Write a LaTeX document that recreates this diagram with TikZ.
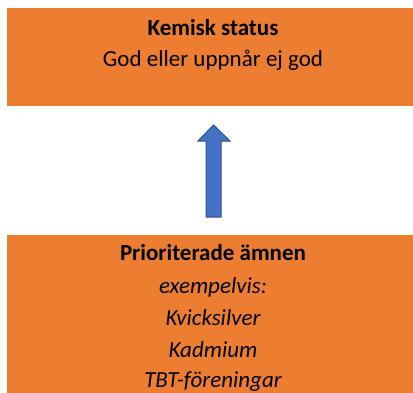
\documentclass[tikz,border=0pt]{standalone}
\usepackage{fontspec}
\setmainfont{Carlito}
\definecolor{boxorange}{HTML}{ED7D31}
\definecolor{arrowblue}{HTML}{4472C4}
\definecolor{arrowedge}{HTML}{2F528F}
\newcommand{\fsz}{\fontsize{23}{26}\selectfont}
\begin{document}
\begin{tikzpicture}[x=1pt,y=-1pt,
  panel/.style={fill=boxorange,draw=none},
  txt/.style={anchor=center,inner sep=0pt,font=\fsz,text=black},
  boldtxt/.style={txt,font=\fsz\bfseries},
  ittxt/.style={txt,font=\fsz\itshape}]
\useasboundingbox (0,0) rectangle (413,392);
\fill[white] (0,0) rectangle (413,392);
\path[panel] (7,8) rectangle (420,106);
\path[panel] (7,235) rectangle (420,400);
\node[boldtxt] (t1) at (213,28) {Kemisk status};
\node[txt] (t2) at (213,60) {God eller uppnår ej god};
\node[boldtxt] (b1) at (213,253) {Prioriterade ämnen};
\node[ittxt] (b2) at (213,287) {exempelvis:};
\node[ittxt] (b3) at (213,318) {Kvicksilver};
\node[ittxt] (b4) at (213,350) {Kadmium};
\node[ittxt] (b5) at (213,382) {TBT-föreningar};
\filldraw[fill=arrowblue,draw=arrowedge,line width=1pt,line join=miter]
  (206,217) -- (206,141) -- (198,141) -- (213.5,125) -- (230,141) -- (221,141) -- (221,217) -- cycle;
\end{tikzpicture}
\end{document}
